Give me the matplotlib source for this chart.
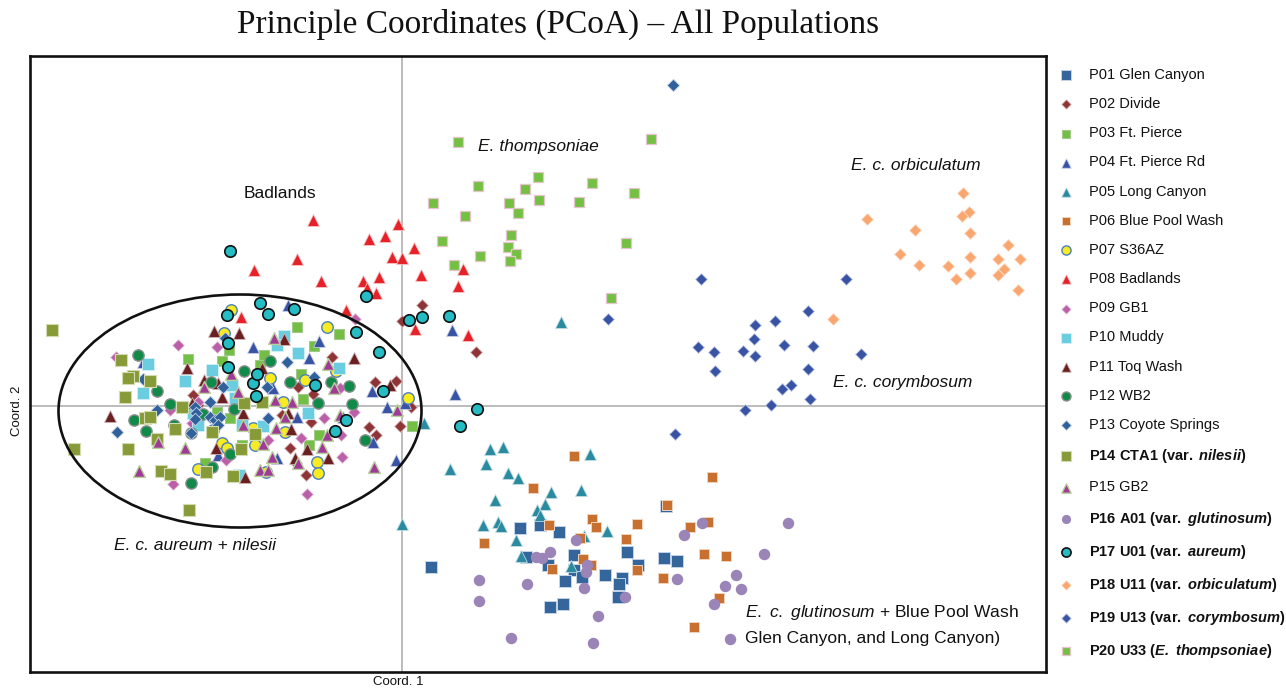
import matplotlib
matplotlib.use("Agg")
import matplotlib.pyplot as plt
from matplotlib.patches import Ellipse

plt.rcParams['font.family'] = ['Liberation Sans', 'DejaVu Sans']
plt.rcParams['mathtext.fontset'] = 'custom'
plt.rcParams['mathtext.rm'] = 'Liberation Sans'
plt.rcParams['mathtext.it'] = 'Liberation Sans:italic'
plt.rcParams['mathtext.bf'] = 'Liberation Sans:bold'
plt.rcParams['mathtext.bfit'] = 'Liberation Sans:italic:bold'

p01_x = [29,118,138,157,124,146,172,172,180,163,203,220,225,217,216,236,262,275,264,148,161]
p01_y = [-161,-122,-119,-126,-151,-159,-149,-164,-171,-175,-169,-172,-146,-178,-191,-159,-152,-155,-100,-201,-198]
p02_x = [20,0,-70,-27,-6,-91,-112,-96,-106,-33,-26,-2,9,-104,-89,-120,74,-209,-204]
p02_y = [101,85,49,24,25,-16,-42,-69,-57,-21,-29,-20,-1,19,12,-9,54,11,1]
p03_x = [-214,-180,-173,-105,-63,-88,-138,-142,-101,-197,-172,-99,-83,-93,10,-160,-185]
p03_y = [47,45,56,79,72,60,51,41,32,-57,-12,7,-29,-39,-20,-39,-6]
p04_x = [-114,-149,-83,-93,-30,-15,-6,-29,-105,-125,3,-59,-129,-184,-259,50,53]
p04_y = [101,59,65,48,15,-1,-54,-36,-11,-52,3,-11,18,-49,44,76,12]
p05_x = [88,101,48,84,106,116,188,149,179,93,143,135,138,81,96,99,114,119,169,182,205,0,22,159]
p05_y = [-43,-41,-63,-58,-67,-72,-48,-86,-84,-94,-98,-104,-109,-119,-116,-120,-134,-150,-160,-130,-125,-118,-17,84]
p06_x = [172,131,310,265,190,194,147,82,235,306,288,224,178,181,189,150,235,261,302,324,317,292]
p06_y = [-50,-82,-71,-99,-113,-121,-119,-137,-118,-116,-121,-133,-132,-153,-159,-163,-164,-172,-148,-150,-192,-221]
p07_x = [-171,-178,-75,-132,-97,-119,-66,-149,-117,-147,-85,-84,-136,6,-180,-175,-204,-189]
p07_y = [96,73,79,28,26,4,35,-22,-26,-39,-56,-67,-66,8,-37,-42,-63,-24]
p08_x = [-33,-17,12,-10,0,19,-23,-39,-26,-35,-56,-81,-105,-148,13,-161,-89,-4,61,56,66]
p08_y = [167,170,158,149,148,131,129,125,113,118,96,125,147,136,77,89,186,182,137,120,71]
p09_x = [-286,-224,-185,-47,-229,-176,-232,-134,-101,-78,-60,-95,-48,-61,-62,-204,-210]
p09_y = [49,61,59,87,-78,-54,-4,-34,-32,-12,-51,-88,-6,-29,18,4,-17]
p10_x = [-254,-217,-190,-118,-125,-104,-63,-259,-204,-170,-94,-139,-160,-163,-209,-167]
p10_y = [42,25,36,70,61,53,38,13,-19,21,-7,-20,-19,-69,-7,8]
p11_x = [-188,-215,-163,-118,-48,-140,-292,-186,-180,-210,-159,-111,-95,-74,-157,-107,-12,-114,-198,-184]
p11_y = [75,38,73,67,48,38,-10,-42,9,3,-7,-23,-43,-52,-71,-52,21,-7,26,23]
p12_x = [-264,-132,-158,-112,-71,-245,-232,-268,-256,-228,-211,-190,-211,-172,-199,-191,-168,-84,-53,-50,-37,-221]
p12_y = [51,45,35,24,24,15,2,-14,-25,-19,-27,-61,-77,-48,-8,24,-3,3,20,2,-34,-1]
p13_x = [271,-285,-245,-211,-207,-206,-207,-192,-179,-192,-187,-182,-184,-115,-88,-134,-259,-135,-177]
p13_y = [321,-26,-4,-27,-1,-7,-13,4,19,-11,-14,-11,-19,44,29,-12,27,19,68]
p14_x = [-350,-281,-269,-252,-274,-277,-328,-274,-257,-252,-220,-227,-190,-241,-232,-196,-169,-213,-161,-245,-158,-140,-147]
p14_y = [76,46,30,25,28,9,-43,-43,-12,-11,-1,-23,-26,-65,-68,-66,-70,-104,-43,-33,3,4,-28]
p15_x = [-128,-74,-244,-217,-263,-198,-171,-164,-127,-110,-68,-159,-117,-126,-139,-75,-80,-104,-130,-142,-134,-28,-5,-62]
p15_y = [68,42,-36,-42,-65,19,32,14,6,4,18,-19,-11,-22,-38,-29,-41,-57,-51,-64,-64,-61,-4,-9]
p16_x = [174,148,134,140,185,184,182,77,125,77,223,196,109,191,328,312,323,339,334,275,362,386,300,282]
p16_y = [-134,-146,-151,-152,-159,-166,-182,-174,-178,-195,-191,-210,-232,-237,-233,-198,-180,-183,-169,-173,-148,-117,-117,-129]
p17_x = [-172,-175,-174,-174,-142,-134,-108,-36,-46,-23,7,20,47,-56,-67,-19,-87,-146,-149,-145,75,58]
p17_y = [155,91,63,39,103,92,97,110,74,54,86,89,90,-14,-25,15,21,10,23,32,-3,-20]
p18_x = [561,465,567,560,513,568,606,498,568,596,618,517,546,602,596,568,554,616,431]
p18_y = [213,187,194,190,176,173,161,152,149,147,147,141,140,137,131,133,127,116,87]
p19_x = [299,444,406,373,353,352,296,312,341,353,382,411,459,313,406,389,380,408,369,343,273,206]
p19_y = [127,127,95,85,81,67,59,54,55,50,61,60,52,35,37,21,17,7,1,-4,-28,87]
p20_x = [56,249,136,123,76,31,107,137,116,63,190,177,232,109,40,106,114,108,78,52,224,209]
p20_y = [264,267,229,217,220,203,203,206,193,190,223,204,213,171,165,159,152,145,150,141,163,108]

labels = [
    "P01 Glen Canyon", "P02 Divide", "P03 Ft. Pierce", "P04 Ft. Pierce Rd", "P05 Long Canyon",
    "P06 Blue Pool Wash", "P07 S36AZ", "P08 Badlands", "P09 GB1", "P10 Muddy",
    "P11 Toq Wash", "P12 WB2", "P13 Coyote Springs",
    r"$\mathbf{P14\ CTA1\ (var.\ }\mathbfit{nilesii}\mathbf{)}$",
    "P15 GB2",
    r"$\mathbf{P16\ A01\ (var.\ }\mathbfit{glutinosum}\mathbf{)}$",
    r"$\mathbf{P17\ U01\ (var.\ }\mathbfit{aureum}\mathbf{)}$",
    r"$\mathbf{P18\ U11\ (var.\ }\mathbfit{orbiculatum}\mathbf{)}$",
    r"$\mathbf{P19\ U13\ (var.\ }\mathbfit{corymbosum}\mathbf{)}$",
    r"$\mathbf{P20\ U33\ (}\mathbfit{E.\ thompsoniae}\mathbf{)}$",
]
xs = [p01_x,p02_x,p03_x,p04_x,p05_x,p06_x,p07_x,p08_x,p09_x,p10_x,p11_x,p12_x,p13_x,p14_x,p15_x,p16_x,p17_x,p18_x,p19_x,p20_x]
ys = [p01_y,p02_y,p03_y,p04_y,p05_y,p06_y,p07_y,p08_y,p09_y,p10_y,p11_y,p12_y,p13_y,p14_y,p15_y,p16_y,p17_y,p18_y,p19_y,p20_y]

markers = ['s','D','s','^','^','s','o','^','D','s','^','o','D','s','^','o','o','D','D','s']
sizes   = [68,36,60,72,72,58,68,72,36,66,72,66,40,66,72,68,68,36,36,60]
faces = ['#34659b','#8e3436','#72bf44','#3953a4','#2a8a9f','#c8702f','#f8ec20','#e62128','#bb5fa8','#6bcde0',
         '#6a1f21','#0f8a48','#30619b','#879a38','#a03a97','#9a84b8','#25bcc4','#f9a66f','#3853a4','#74c043']
edges = ['#c4d3e6','#d9b9b9','#a3c98a','#c4cce6','#bcdbe2','#f0d3bb','#4a7fc0','#f5c0c2','#e6cbe2','#d3f0f5',
         '#c9b0b0','#8a8f8c','#c4d3e6','#d3dbb0','#b8d09a','#9a84b8','#111111','#fbdcc6','#c4cce6','#e7c5cc']
widths = [0.7,0.6,0.8,0.6,0.6,0.7,1.0,0.6,0.6,0.6,0.6,1.0,0.6,0.8,1.0,0.0,1.2,0.6,0.6,0.9]

fig = plt.figure(figsize=(12.86, 6.90), dpi=100)
ax = fig.add_axes([30/1286, 1-672/690, (1046-30)/1286, (672-56)/690])
ax.set_xlim(-372, 644)
ax.set_ylim(-266, 350)
ax.set_xticks([])
ax.set_yticks([])
for s in ax.spines.values():
    s.set_linewidth(1.9)
    s.set_color('#111111')
ax.axvline(0, color='#a9a9a9', lw=1.1, zorder=1)
ax.axhline(0, color='#a9a9a9', lw=1.1, zorder=1)

handles = []
for i in range(20):
    h = ax.scatter(xs[i], ys[i], s=sizes[i], marker=markers[i], c=faces[i],
                   edgecolors=edges[i], linewidths=widths[i], zorder=3+i*0.01, label=labels[i])
    handles.append(h)

ax.add_patch(Ellipse((-162, -5), 363, 233, fill=False, ec='#111111', lw=1.9, zorder=4))

tkw = dict(fontsize=12.5, va='center', color='#111111', zorder=5)
ax.text(-158, 212, "Badlands", **tkw)
ax.text(76, 260, "E. thompsoniae", style='italic', **tkw)
ax.text(449, 240, "E. c. orbiculatum", style='italic', **tkw)
ax.text(431, 23, "E. c. corymbosum", style='italic', **tkw)
ax.text(-288, -140, "E. c. aureum + nilesii", style='italic', **tkw)
ax.text(343, -207, r"$\mathit{E.\ c.\ glutinosum}$ + Blue Pool Wash", **tkw)
ax.text(343, -232, "Glen Canyon, and Long Canyon)", **tkw)

fig.text(398/1286, 1-682/690, "Coord. 1", fontsize=9.5, ha='center', va='center', color='#111111')
fig.text(17/1286, 1-411/690, "Coord. 2", fontsize=9.5, ha='center', va='center', rotation=90, color='#111111')
fig.text(558/1286, 1-24/690, "Principle Coordinates (PCoA) \u2013 All Populations",
         fontsize=24, family='Liberation Serif', ha='center', va='center', color='#111111')

fig.legend(handles=handles, loc='upper left', bbox_to_anchor=(1051/1286, 1-68/690), frameon=False,
           fontsize=10.5, labelspacing=1.04, handletextpad=0.6, handlelength=2.0, markerscale=0.8,
           borderpad=0, borderaxespad=0, scatterpoints=1, labelcolor='#111111')

fig.savefig("out.png", dpi=100)
